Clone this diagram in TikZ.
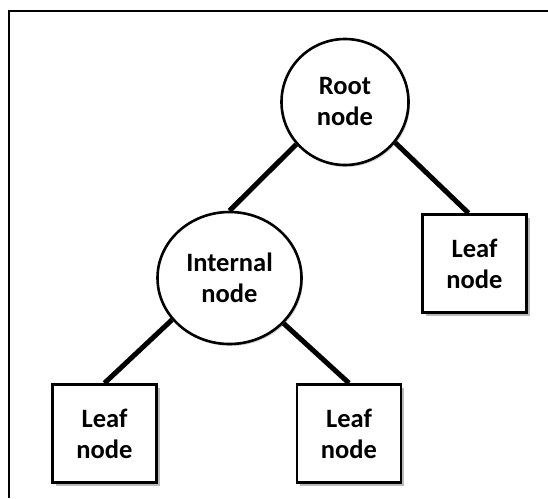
\documentclass[tikz,border=0pt]{standalone}
\usepackage{fontspec}
\setmainfont{Carlito}
\usetikzlibrary{shadows,shapes.geometric}
\begin{document}
\begin{tikzpicture}[x=1pt,y=-1pt,
  lbl/.style={font=\bfseries\fontsize{26.5}{31}\selectfont, align=center, text=black},
  circnode/.style={lbl, ellipse, draw=black, line width=2.6pt, fill=white, inner sep=0pt,
    drop shadow={shadow xshift=1.5pt, shadow yshift=-2pt, opacity=0.35, fill=black!50}},
  boxnode/.style={lbl, rectangle, draw=black, line width=2.8pt, fill=white, inner sep=0pt,
    minimum width=104pt, minimum height=98pt,
    drop shadow={shadow xshift=3pt, shadow yshift=-3.5pt, opacity=0.45, fill=black!60}},
  edge/.style={line width=5pt, black}]
\useasboundingbox (0,0) rectangle (548,498);
\draw[line width=1.3pt] (9,498) -- (9,11) -- (548,11);
\node[circnode, minimum width=127pt, minimum height=126pt] (root) at (345,102) {Root\\node};
\node[circnode, minimum width=144pt, minimum height=132pt] (int) at (229.5,278) {Internal\\node};
\node[boxnode] (leafR) at (474.5,263.5) {Leaf\\node};
\node[boxnode] (leafBL) at (104.5,433.5) {Leaf\\node};
\node[boxnode] (leafBM) at (349,433.5) {Leaf\\node};
\draw[edge] (root.221) -- (int.north);
\draw[edge] (root.-39) -- ([xshift=-6pt]leafR.north);
\draw[edge] (int.216) -- (leafBL.north);
\draw[edge] (int.-40) -- (leafBM.north);
\end{tikzpicture}
\end{document}
